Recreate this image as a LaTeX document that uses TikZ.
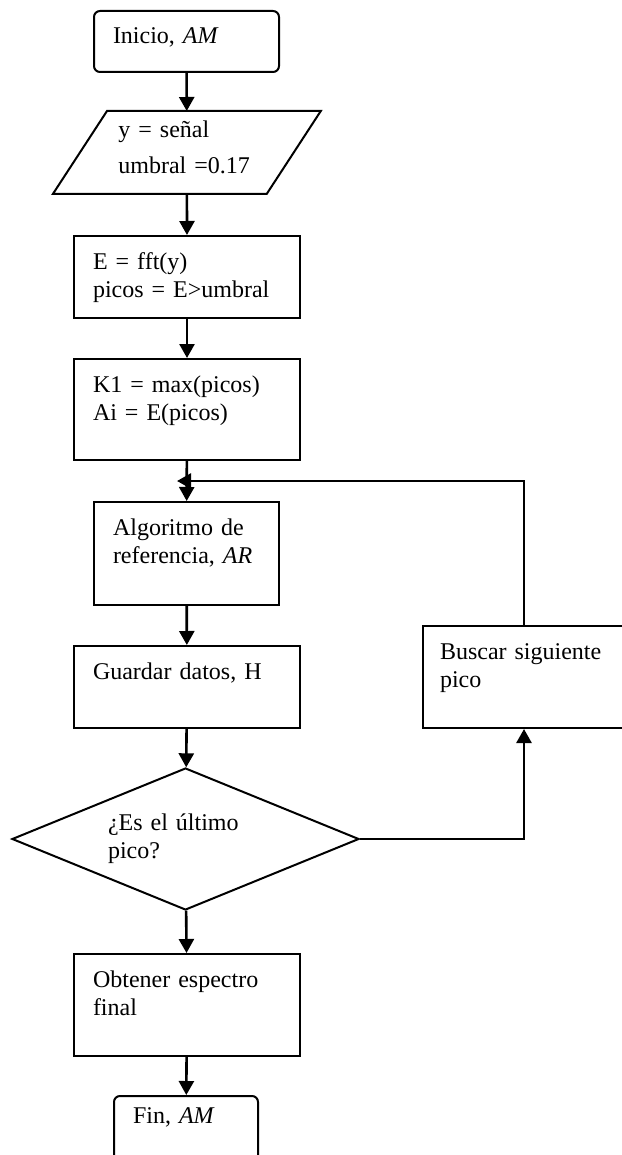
\documentclass[tikz,border=0pt]{standalone}
\usepackage{fontspec}
\setmainfont{Liberation Serif}
\usetikzlibrary{calc,arrows.meta,shapes.geometric}

\tikzset{
  caja/.style={draw, line width=1pt, anchor=north west, align=left,
    inner xsep=9.5pt, inner ysep=0pt, text height=16.5pt},
  terminal/.style={caja, rounded corners=3pt},
  decision/.style={draw, line width=1pt, diamond, aspect=2.44, align=left,
    inner sep=0pt, minimum width=173.5pt, minimum height=71pt},
  flecha/.style={-{Triangle[length=7pt,width=7.5pt]}, line width=1.3pt},
}

\begin{document}
\begin{tikzpicture}[x=0.5pt,y=-0.5pt,font=\fontsize{12}{14}\selectfont]
                      \useasboundingbox (0,0) rectangle (621,1155);

                      \node[terminal, text width=73.5pt, text depth=14pt] (inicio) at (93,10) {Inicio, \textit{AM}};
                      \node[anchor=north west, align=left, inner xsep=32.5pt, inner ysep=0pt,
                            text width=68.5pt, text height=13pt, text depth=28pt,
                            font=\fontsize{12}{18}\selectfont] (datos) at (53,111) {y = señal\\umbral =0.17};
                      \draw[line width=1pt] ($(datos.north west)+(54,0)$) -- (datos.north east)
                            -- ($(datos.south east)+(-54,0)$) -- (datos.south west) -- cycle;
                      \node[caja, text width=94pt, text depth=24.5pt] (fft) at (73,235) {E = fft(y)\\picos = E>umbral};
                      \node[caja, text width=94pt, text depth=34pt] (maximo) at (73,358) {K1 = max(picos)\\Ai = E(picos)};
                      \node[caja, text width=73.5pt, text depth=35pt] (algref) at (93,501) {Algoritmo de\\referencia, \textit{AR}};
                      \node[caja, text width=94pt, text depth=24.5pt] (guardar) at (73,645) {Guardar datos, H};
                      \node[decision, text width=77.5pt] (ultimo) at (185.5,839) {¿Es el último\\pico?};
                      \node[caja, inner xsep=8.5pt, text width=84pt, text depth=34.5pt] (buscar) at (422,625) {Buscar siguiente\\pico};
                      \node[caja, text width=94pt, text depth=34.5pt] (espectro) at (73,953) {Obtener espectro\\final};
                      \node[terminal, text width=53pt, text height=13.5pt, text depth=21.5pt] (fin) at (113,1095) {Fin, \textit{AM}};
                      \coordinate (junta) at (177,481);

                      \draw[flecha] (inicio) -- (datos);
                      \draw[flecha] (datos) -- (fft);
                      \draw[flecha] (fft) -- (maximo);
                      \draw[flecha] (maximo) -- (algref);
                      \draw[flecha] (algref) -- (guardar);
                      \draw[flecha] (guardar) -- (ultimo);
                      \draw[flecha] (ultimo.east) -| (buscar.south);
                      \draw[flecha] (buscar.north) |- (junta);
                      \draw[flecha] (ultimo) -- (espectro);
                      \draw[flecha] (espectro) -- (fin);
                  \end{tikzpicture}
\end{document}
